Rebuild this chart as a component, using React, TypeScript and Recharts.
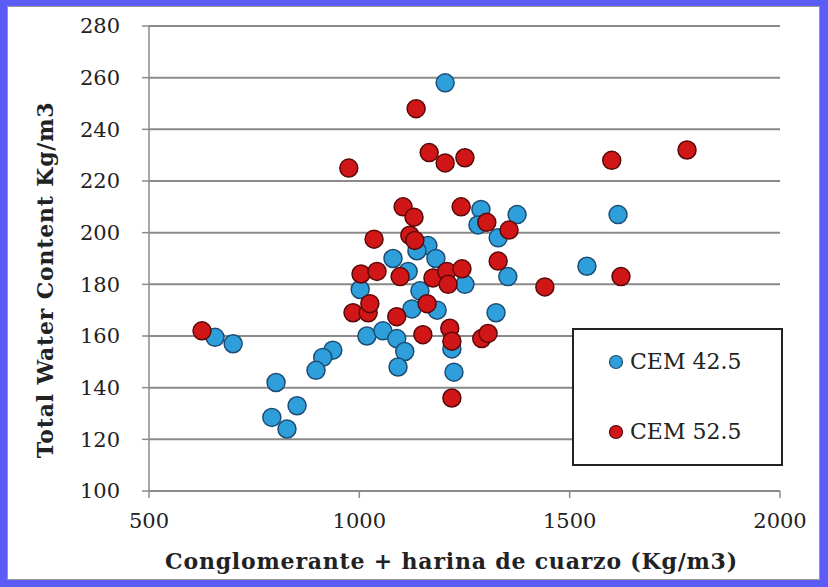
import { ScatterChart, Scatter, XAxis, YAxis, CartesianGrid, Label } from 'recharts'

// CEM 42.5 (x: conglomerante + harina de cuarzo, y: total water content)
const cem425X = [1204, 1289, 1282, 1375, 1330, 1353, 1251, 1325, 1220, 1225, 1615, 1541, 1163, 1137, 1182, 1080, 1116, 1002, 1144, 1185, 1125, 1018, 1056, 1089, 1108, 1092, 937, 913, 897, 802, 852, 792, 828, 657, 700]
const cem425Y = [258, 209, 203, 207, 198, 183, 180, 169, 155, 146, 207, 187, 195, 193, 190, 190, 185, 178, 177.5, 170, 170.5, 160, 162, 159, 154, 148, 154.5, 151.7, 146.7, 142, 133, 128.5, 124, 159.5, 157]

// CEM 52.5
const cem525X = [1135, 1166, 1204, 1251, 975, 1600, 1779, 1242, 1104, 1130, 1303, 1356, 1035, 1120, 1132, 1330, 1441, 1622, 1004, 1042, 1097, 1175, 1208, 1244, 1211, 985, 1021, 1025, 1089, 1161, 1151, 1215, 1220, 1220, 1291, 1306, 626]
const cem525Y = [248, 231, 227, 229, 225, 228, 232, 210, 210, 206, 204, 201, 197.5, 199, 197, 189, 179, 183, 184, 185, 183, 182.5, 185, 186, 180, 169, 169, 172.5, 167.5, 172.5, 160.5, 163, 158, 136, 159, 161, 162]

const xTicks = [500, 1000, 1500, 2000]
const yTicks = [100, 120, 140, 160, 180, 200, 220, 240, 260, 280]

const blueData = cem425X.map((x, i) => ({ x, y: cem425Y[i] }))
const redData = cem525X.map((x, i) => ({ x, y: cem525Y[i] }))

const serif = '"DejaVu Serif", serif'

const dot = (fill: string, stroke: string) => (p: any) => (
  <circle cx={p.cx} cy={p.cy} r={9} fill={fill} stroke={stroke} strokeWidth={1.5} />
)

const series = [
  { name: 'CEM 42.5', fill: '#2f9fdc', stroke: '#1d4d75' },
  { name: 'CEM 52.5', fill: '#d01616', stroke: '#5a0808' },
]

const LegendBox = () => (
  <div style={{ position: 'absolute', left: 572, top: 328, width: 211, height: 138, border: '2px solid #222', background: '#fff', fontFamily: serif, fontSize: 22, color: '#222', boxSizing: 'border-box' }}>
    {series.map((s, i) => (
      <div key={s.name} style={{ display: 'flex', alignItems: 'center', position: 'absolute', left: 34, top: i === 0 ? 19 : 89 }}>
        <svg width={16} height={16} style={{ marginRight: 6 }}>
          <circle cx={8} cy={8} r={6.5} fill={s.fill} stroke={s.stroke} strokeWidth={1.2} />
        </svg>
        <span>{s.name}</span>
      </div>
    ))}
  </div>
)

export default function App() {
  return (
    <div style={{ position: 'fixed', left: 0, top: 0, width: 828, height: 587, background: '#5b5bf5' }}>
      <div style={{ position: 'absolute', left: 7, top: 6, width: 813, height: 574, background: '#fff', border: '1px solid #999', boxSizing: 'border-box' }} />
      <div style={{ position: 'absolute', left: 0, top: 0 }}>
        <ScatterChart width={828} height={587} margin={{ top: 26, right: 48, bottom: 16, left: 19 }}>
          <CartesianGrid horizontal vertical={false} stroke="#8a8a8a" strokeWidth={2} />
          <XAxis
            type="number"
            dataKey="x"
            domain={[500, 2000]}
            ticks={xTicks}
            height={80}
            stroke="#8a8a8a"
            strokeWidth={1.5}
            tickSize={7}
            tickMargin={15}
            tick={{ fill: '#222', fontFamily: serif, fontSize: 21 }}
          >
            <Label
              value="Conglomerante + harina de cuarzo (Kg/m3)"
              position="insideBottom"
              offset={2}
              dx={-13}
              style={{ fill: '#222', fontFamily: serif, fontSize: 22, fontWeight: 'bold', letterSpacing: 0.8 }}
            />
          </XAxis>
          <YAxis
            type="number"
            dataKey="y"
            domain={[100, 280]}
            ticks={yTicks}
            width={130}
            stroke="#8a8a8a"
            strokeWidth={1.5}
            tickSize={7}
            tickMargin={22}
            tick={{ fill: '#222', fontFamily: serif, fontSize: 21 }}
          />
          <Scatter name="CEM 42.5" data={blueData} shape={dot(series[0].fill, series[0].stroke)} isAnimationActive={false} />
          <Scatter name="CEM 52.5" data={redData} shape={dot(series[1].fill, series[1].stroke)} isAnimationActive={false} />
        </ScatterChart>
      </div>
      <svg width={80} height={587} style={{ position: 'absolute', left: 0, top: 0 }}>
        <text
          x={45}
          y={280}
          transform="rotate(-90 45 280)"
          textAnchor="middle"
          dominantBaseline="central"
          fill="#222"
          fontFamily={serif}
          fontSize={22}
          fontWeight="bold"
          letterSpacing={0.8}
        >
          Total Water Content Kg/m3
        </text>
      </svg>
      <LegendBox />
    </div>
  )
}
